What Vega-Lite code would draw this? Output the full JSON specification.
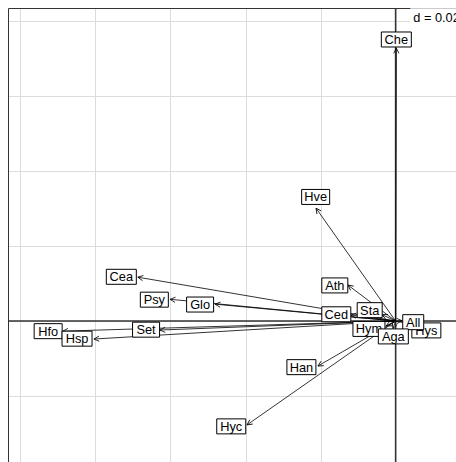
{
  "$schema": "https://vega.github.io/schema/vega-lite/v6.json",
  "width": 448,
  "height": 454,
  "autosize": {"type": "none"},
  "padding": {"left": 8, "top": 8, "right": 0, "bottom": 0},
  "background": "white",
  "config": {"view": {"stroke": null}, "font": "Liberation Sans"},
  "datasets": {
    "arrows": [
      {"label": "Che", "x": 0.0002, "y": 0.0728, "lx": 0.0002, "ly": 0.0751},
      {"label": "Hve", "x": -0.0212, "y": 0.0301, "lx": -0.0213, "ly": 0.0331},
      {"label": "Cea", "x": -0.0687, "y": 0.0117, "lx": -0.0731, "ly": 0.0118},
      {"label": "Psy", "x": -0.0601, "y": 0.0058, "lx": -0.0643, "ly": 0.0057},
      {"label": "Glo", "x": -0.0481, "y": 0.0045, "lx": -0.0521, "ly": 0.0044},
      {"label": "Set", "x": -0.0628, "y": -0.0024, "lx": -0.0665, "ly": -0.0023},
      {"label": "Hfo", "x": -0.0887, "y": -0.0027, "lx": -0.0926, "ly": -0.0027},
      {"label": "Hsp", "x": -0.0804, "y": -0.0048, "lx": -0.0849, "ly": -0.0047},
      {"label": "Ath", "x": -0.0127, "y": 0.0096, "lx": -0.0162, "ly": 0.0095},
      {"label": "Ced", "x": -0.0119, "y": 0.0016, "lx": -0.0158, "ly": 0.0018},
      {"label": "Sta", "x": -0.0036, "y": 0.0017, "lx": -0.0069, "ly": 0.0029},
      {"label": "Hym", "x": -0.0025, "y": -0.0013, "lx": -0.0071, "ly": -0.0021},
      {"label": "Hys", "x": 0.0039, "y": -0.0008, "lx": 0.0082, "ly": -0.0025},
      {"label": "All", "x": 0.0017, "y": 0.0001, "lx": 0.0047, "ly": -0.0003},
      {"label": "Aga", "x": -0.0007, "y": -0.002, "lx": -0.0006, "ly": -0.0041},
      {"label": "Han", "x": -0.0207, "y": -0.012, "lx": -0.0251, "ly": -0.0123},
      {"label": "Hyc", "x": -0.0396, "y": -0.0277, "lx": -0.0438, "ly": -0.0281}
    ],
    "one": [{}]
  },
  "data": {"name": "arrows"},
  "layer": [
    {
      "data": {"name": "one"},
      "mark": {"type": "rule", "opacity": 0},
      "encoding": {
        "x": {"datum": 0, "type": "quantitative",
          "scale": {"domain": [-0.1033, 0.0161], "nice": false, "zero": false},
          "axis": {"orient": "top", "title": null, "labels": false, "ticks": false,
            "values": [-0.1, -0.08, -0.06, -0.04, -0.02, 0, 0.02],
            "grid": true, "gridColor": "#dcdcdc", "gridWidth": 1,
            "domain": true, "domainColor": "#333333", "domainWidth": 1}},
        "y": {"datum": 0, "type": "quantitative",
          "scale": {"domain": [-0.0376, 0.0835], "nice": false, "zero": false},
          "axis": {"orient": "left", "title": null, "labels": false, "ticks": false,
            "values": [0.08, 0.06, 0.04, 0.02, 0, -0.02, -0.04],
            "grid": true, "gridColor": "#dcdcdc", "gridWidth": 1,
            "domain": true, "domainColor": "#333333", "domainWidth": 1}}
      }
    },
    {
      "data": {"name": "one"},
      "mark": {"type": "rule", "color": "#333333", "strokeWidth": 1.5},
      "encoding": {"x": {"datum": 0, "type": "quantitative"}}
    },
    {
      "data": {"name": "one"},
      "mark": {"type": "rule", "color": "#333333", "strokeWidth": 1.5},
      "encoding": {"y": {"datum": 0, "type": "quantitative"}}
    },
    {
      "mark": {"type": "rule", "color": "black", "strokeWidth": 0.8},
      "encoding": {
        "x": {"field": "x", "type": "quantitative"},
        "y": {"field": "y", "type": "quantitative"},
        "x2": {"datum": 0},
        "y2": {"datum": 0}
      }
    },
    {
      "transform": [{"calculate": "atan2(-datum.y, datum.x) * 180 / PI", "as": "ang"}],
      "mark": {"type": "point", "shape": "M -1 -0.5 L 0 0 L -1 0.5", "size": 110,
        "filled": false, "stroke": "black", "strokeWidth": 0.8, "opacity": 1},
      "encoding": {
        "x": {"field": "x", "type": "quantitative"},
        "y": {"field": "y", "type": "quantitative"},
        "angle": {"field": "ang", "type": "quantitative", "scale": null}
      }
    },
    {
      "transform": [{"filter": {"not": {"field": "label", "oneOf": ["All", "Aga"]}}}],
      "mark": {"type": "point", "size": 4, "filled": true, "fill": "white",
        "stroke": "black", "strokeWidth": 1, "opacity": 1},
      "encoding": {
        "x": {"field": "lx", "type": "quantitative"},
        "y": {"field": "ly", "type": "quantitative"},
        "shape": {"field": "label", "type": "nominal", "legend": null,
          "scale": {
            "domain": ["Che", "Hve", "Cea", "Psy", "Glo", "Set", "Hfo", "Hsp", "Ath", "Ced", "Sta", "Hym", "All", "Hys", "Aga", "Han", "Hyc"],
            "range": [
              "M -15 -7.5 H 15 V 7.5 H -15 Z",
              "M -14 -7.5 H 14 V 7.5 H -14 Z",
              "M -15 -7.5 H 15 V 7.5 H -15 Z",
              "M -14 -7.5 H 14 V 7.5 H -14 Z",
              "M -13.5 -7.5 H 13.5 V 7.5 H -13.5 Z",
              "M -13.5 -7.5 H 13.5 V 7.5 H -13.5 Z",
              "M -14 -7.5 H 14 V 7.5 H -14 Z",
              "M -15 -7.5 H 15 V 7.5 H -15 Z",
              "M -13 -7.5 H 13 V 7.5 H -13 Z",
              "M -14.5 -7.5 H 14.5 V 7.5 H -14.5 Z",
              "M -12.5 -7.5 H 12.5 V 7.5 H -12.5 Z",
              "M -16 -7.5 H 16 V 7.5 H -16 Z",
              "M -10.5 -7.5 H 10.5 V 7.5 H -10.5 Z",
              "M -14.5 -7.5 H 14.5 V 7.5 H -14.5 Z",
              "M -15 -7.5 H 15 V 7.5 H -15 Z",
              "M -14.5 -7.5 H 14.5 V 7.5 H -14.5 Z",
              "M -14.5 -7.5 H 14.5 V 7.5 H -14.5 Z"
            ]}}
      }
    },
    {
      "transform": [{"filter": {"not": {"field": "label", "oneOf": ["All", "Aga"]}}}],
      "mark": {"type": "text", "fontSize": 12.8, "font": "Liberation Sans", "color": "black",
        "align": "center", "baseline": "middle", "dy": 0.5},
      "encoding": {
        "x": {"field": "lx", "type": "quantitative"},
        "y": {"field": "ly", "type": "quantitative"},
        "text": {"field": "label"}
      }
    },
    {
      "transform": [{"filter": {"field": "label", "oneOf": ["All", "Aga"]}}],
      "mark": {"type": "point", "size": 4, "filled": true, "fill": "white",
        "stroke": "black", "strokeWidth": 1, "opacity": 1},
      "encoding": {
        "x": {"field": "lx", "type": "quantitative"},
        "y": {"field": "ly", "type": "quantitative"},
        "shape": {"field": "label", "type": "nominal", "legend": null}
      }
    },
    {
      "transform": [{"filter": {"field": "label", "oneOf": ["All", "Aga"]}}],
      "mark": {"type": "text", "fontSize": 12.8, "font": "Liberation Sans", "color": "black",
        "align": "center", "baseline": "middle", "dy": 0.5},
      "encoding": {
        "x": {"field": "lx", "type": "quantitative"},
        "y": {"field": "ly", "type": "quantitative"},
        "text": {"field": "label"}
      }
    },
    {
      "data": {"name": "one"},
      "mark": {"type": "rect", "color": "white", "opacity": 1},
      "encoding": {
        "x": {"datum": 0.0039, "type": "quantitative"},
        "x2": {"datum": 0.0161},
        "y": {"datum": 0.0834, "type": "quantitative"},
        "y2": {"datum": 0.0785}
      }
    },
    {
      "data": {"name": "one"},
      "mark": {"type": "text", "fontSize": 12.8, "font": "Liberation Sans", "color": "black",
        "align": "left", "baseline": "middle", "text": "d = 0.02"},
      "encoding": {
        "x": {"datum": 0.0047, "type": "quantitative"},
        "y": {"datum": 0.0808, "type": "quantitative"}
      }
    }
  ]
}
